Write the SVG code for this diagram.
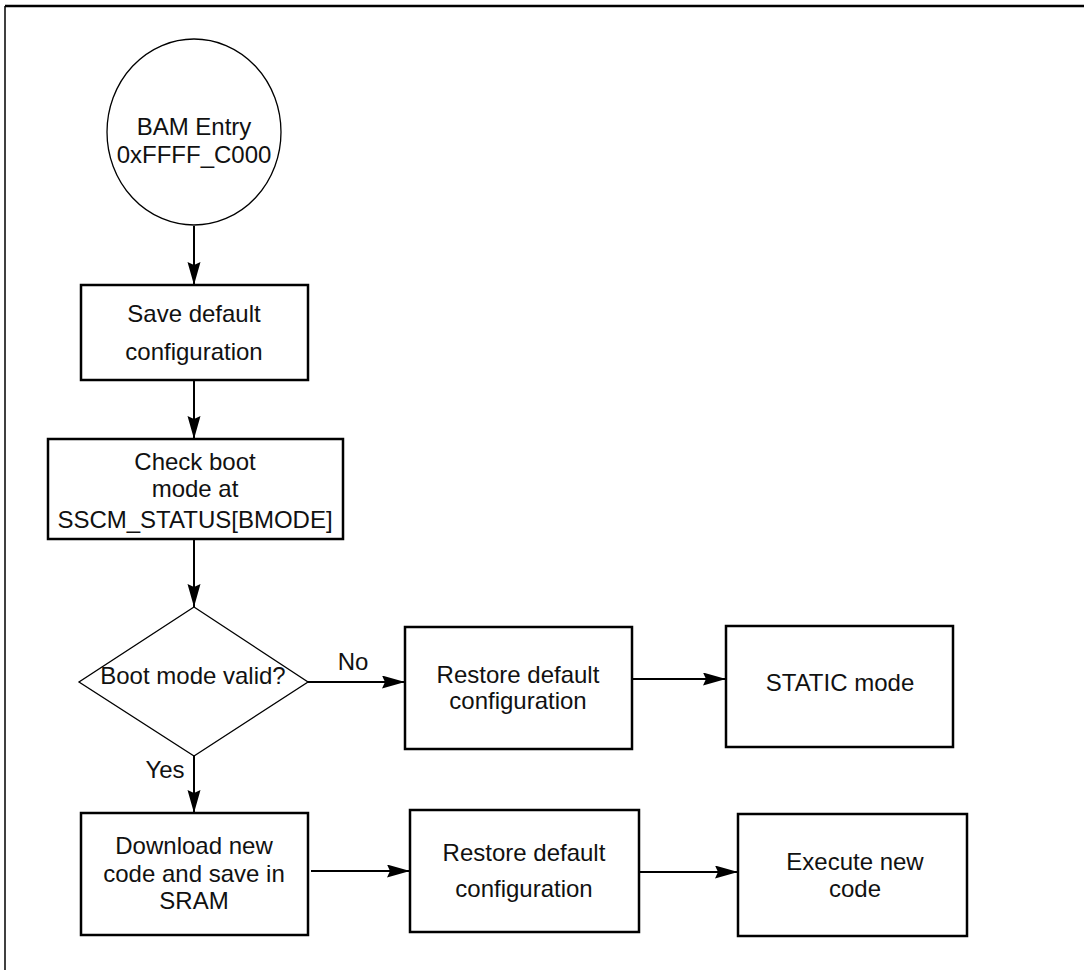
<svg xmlns="http://www.w3.org/2000/svg" width="1084" height="970" viewBox="0 0 1084 970">
<style>
.box{fill:#fff;stroke:#000;stroke-width:2.5}
.thin{fill:#fff;stroke:#000;stroke-width:1.3}
.con{fill:none;stroke:#000;stroke-width:2;marker-end:url(#ah)}
text{font-family:"Liberation Sans",Arial,sans-serif;font-size:24px;fill:#111;text-anchor:middle}
.frame{fill:none;stroke:#000}
</style>
<defs>
<marker id="ah" markerUnits="userSpaceOnUse" markerWidth="24" markerHeight="14" refX="23" refY="6.5" orient="auto">
<path d="M0,0 L23,6.5 L0,13 L3,6.5 z" fill="#000"/>
</marker>
</defs>
<g id="frame">
<line class="frame" x1="5" y1="6" x2="1084" y2="6" stroke-width="2.5"/>
<line class="frame" x1="5" y1="6" x2="5" y2="970" stroke-width="1.5"/>
</g>
<g id="connectors">
<line class="con" x1="194" y1="226" x2="194" y2="285"/>
<line class="con" x1="194" y1="380" x2="194" y2="439"/>
<line class="con" x1="194" y1="539" x2="194" y2="607"/>
<line class="con" x1="308" y1="682" x2="405" y2="682"/>
<line class="con" x1="632" y1="679" x2="726" y2="679"/>
<line class="con" x1="194" y1="756" x2="194" y2="813"/>
<line class="con" x1="311" y1="871" x2="410" y2="871"/>
<line class="con" x1="639" y1="872" x2="738" y2="872"/>
<text x="353" y="670">No</text>
<text x="165" y="778">Yes</text>
</g>
<g id="entry">
<ellipse class="thin" cx="194" cy="132" rx="87" ry="93"/>
<text x="194" y="135">BAM Entry</text>
<text x="194" y="163">0xFFFF_C000</text>
</g>
<g id="save">
<rect class="box" x="81" y="285" width="227" height="95"/>
<text x="194" y="322">Save default</text>
<text x="194" y="360">configuration</text>
</g>
<g id="check">
<rect class="box" x="48" y="439" width="295" height="100"/>
<text x="195" y="470">Check boot</text>
<text x="195" y="497">mode at</text>
<text x="195" y="528">SSCM_STATUS[BMODE]</text>
</g>
<g id="valid">
<polygon class="thin" points="194,607 308,682 194,756 79,682"/>
<text x="193" y="684">Boot mode valid?</text>
</g>
<g id="restore1">
<rect class="box" x="405" y="627" width="227" height="122"/>
<text x="518" y="683">Restore default</text>
<text x="518" y="709">configuration</text>
</g>
<g id="static">
<rect class="box" x="726" y="626" width="227" height="121"/>
<text x="840" y="691">STATIC mode</text>
</g>
<g id="download">
<rect class="box" x="81" y="813" width="227" height="122"/>
<text x="194" y="854">Download new</text>
<text x="194" y="882">code and save in</text>
<text x="194" y="909">SRAM</text>
</g>
<g id="restore2">
<rect class="box" x="410" y="810" width="229" height="122"/>
<text x="524" y="861">Restore default</text>
<text x="524" y="897">configuration</text>
</g>
<g id="execute">
<rect class="box" x="738" y="814" width="229" height="122"/>
<text x="855" y="870">Execute new</text>
<text x="855" y="897">code</text>
</g>
</svg>
